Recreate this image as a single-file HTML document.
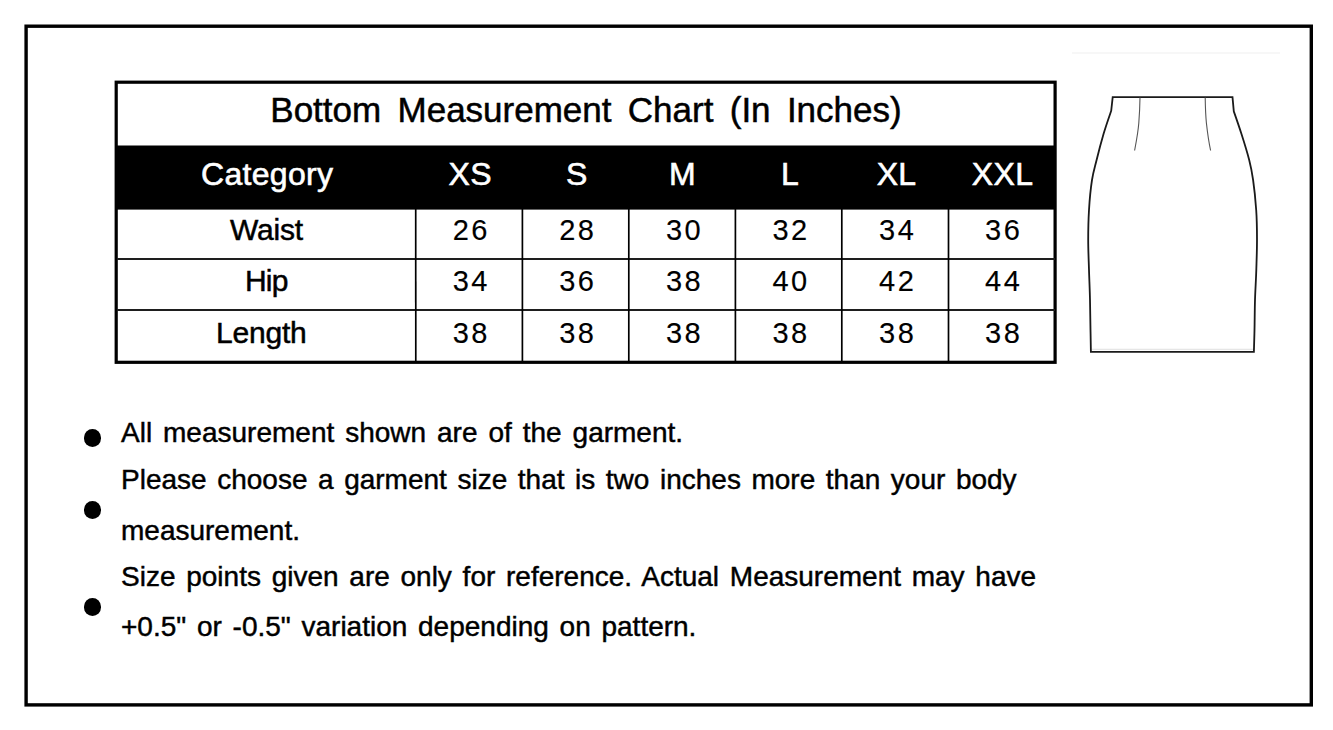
<!DOCTYPE html>
<html>
<head>
<meta charset="utf-8">
<style>
html,body{margin:0;padding:0;background:#fff;}
body{width:1333px;height:730px;position:relative;overflow:hidden;font-family:"Liberation Sans",sans-serif;color:#000;}
.t{position:absolute;white-space:nowrap;line-height:1;}
.c{text-align:center;}
#title{left:118px;width:936px;top:91.8px;font-size:35px;word-spacing:6.6px;-webkit-text-stroke:0.5px #000;}
.hd{color:#fff;font-size:32px;top:158.3px;-webkit-text-stroke:0.6px #fff;letter-spacing:0.3px;padding-left:1.3px;}
.lb{font-size:30px;letter-spacing:-0.8px;-webkit-text-stroke:0.5px #000;}
.num{font-size:29px;letter-spacing:2.4px;padding-left:2.4px;-webkit-text-stroke:0.15px #000;}
.bt{font-size:28px;left:121px;word-spacing:2.95px;-webkit-text-stroke:0.45px #000;}
.dot{position:absolute;width:17.5px;height:17.5px;border-radius:50%;background:#000;left:83.5px;}
svg{position:absolute;left:0;top:0;}
</style>
</head>
<body>
<svg width="1333" height="730" viewBox="0 0 1333 730">
  <!-- outer frame -->
  <rect x="26.1" y="26.2" width="1285.2" height="678.7" fill="none" stroke="#000" stroke-width="3.4"/>
  <!-- table header fill -->
  <rect x="116" y="145.5" width="940" height="64.1" fill="#000"/>
  <!-- table outer -->
  <rect x="116.2" y="82.2" width="938.9" height="280.1" fill="none" stroke="#000" stroke-width="3.2"/>
  <!-- horizontal row lines -->
  <g stroke="#1e1e1e" stroke-width="2">
    <line x1="117" y1="259" x2="1055" y2="259"/>
    <line x1="117" y1="310" x2="1055" y2="310"/>
  </g>
  <!-- vertical lines -->
  <g stroke="#000" stroke-width="1.7">
    <line x1="415.7" y1="209" x2="415.8" y2="362"/>
    <line x1="522.4" y1="209" x2="522.4" y2="362"/>
    <line x1="628.8" y1="209" x2="628.8" y2="362"/>
    <line x1="735.4" y1="209" x2="735.4" y2="362"/>
    <line x1="841.8" y1="209" x2="841.8" y2="362"/>
    <line x1="948.5" y1="209" x2="948.5" y2="362"/>
  </g>
  <!-- faint line above skirt -->
  <line x1="1072" y1="53" x2="1280" y2="53" stroke="#f5f5f5" stroke-width="1.5"/>
  <line x1="1092" y1="349.3" x2="1253" y2="349.3" stroke="#d8d8d8" stroke-width="0.8"/>
  <!-- skirt -->
  <g fill="none" stroke="#1a1a1a" stroke-width="1.8" stroke-linejoin="miter">
        <path d="M1112.7,97.1 L1111.2,110.8 C1109.9,114.6 1106.0,125.6 1103.6,133.8 C1101.2,142.0 1098.5,152.3 1096.6,160.0 C1094.7,167.7 1093.3,171.7 1092.0,180.0 C1090.7,188.3 1089.6,200.0 1089.0,210.0 C1088.4,220.0 1088.2,230.0 1088.2,240.0 C1088.2,250.0 1088.7,260.0 1089.0,270.0 C1089.3,280.0 1089.8,290.0 1090.0,300.0 C1090.2,310.0 1090.3,321.4 1090.5,330.0 C1090.7,338.6 1090.8,348.2 1090.9,351.8 L1253.9,351.8 C1254.0,348.2 1254.3,338.6 1254.5,330.0 C1254.7,321.4 1254.7,310.0 1255.0,300.0 C1255.3,290.0 1256.0,280.0 1256.3,270.0 C1256.6,260.0 1257.0,250.0 1257.0,240.0 C1257.0,230.0 1256.9,220.0 1256.2,210.0 C1255.5,200.0 1254.3,188.3 1253.1,180.0 C1251.9,171.7 1251.2,167.7 1249.2,160.0 C1247.2,152.3 1244.0,141.9 1241.4,133.8 C1238.8,125.7 1235.1,115.1 1233.8,111.4 L1232.5,97.1 Z"/>
  </g>
  <g fill="none" stroke="#555" stroke-width="1.1">
    <path d="M1140,97.5 C1139.8,110 1139.2,118 1138.8,123 C1138,133 1136,143 1134.6,150.5"/>
    <path d="M1205.2,97.5 C1205.4,110 1205.9,118 1206.4,123 C1207.5,133 1209,143 1210.6,150.5"/>
  </g>
</svg>

<div class="t c" id="title">Bottom Measurement Chart (In Inches)</div>

<div class="t c hd" style="left:117px;width:297.8px;">Category</div>
<div class="t c hd" style="left:415.8px;width:106.3px;">XS</div>
<div class="t c hd" style="left:522.1px;width:106.7px;">S</div>
<div class="t c hd" style="left:627.8px;width:106.6px;">M</div>
<div class="t c hd" style="left:735.4px;width:106.6px;">L</div>
<div class="t c hd" style="left:842px;width:106.5px;">XL</div>
<div class="t c hd" style="left:948.5px;width:105.5px;">XXL</div>

<div class="t lb" style="left:230px;top:214.6px;letter-spacing:-0.2px;">Waist</div>
<div class="t lb" style="left:245px;top:265.6px;">Hip</div>
<div class="t lb" style="left:216px;top:317.6px;letter-spacing:-0.2px;">Length</div>

<!-- row 1 -->
<div class="t c num" style="left:415.8px;width:106.3px;top:216.3px;">26</div>
<div class="t c num" style="left:522.1px;width:106.7px;top:216.3px;">28</div>
<div class="t c num" style="left:628.8px;width:106.6px;top:216.3px;">30</div>
<div class="t c num" style="left:735.4px;width:106.6px;top:216.3px;">32</div>
<div class="t c num" style="left:842px;width:106.5px;top:216.3px;">34</div>
<div class="t c num" style="left:948.5px;width:105.5px;top:216.3px;">36</div>
<!-- row 2 -->
<div class="t c num" style="left:415.8px;width:106.3px;top:267.2px;">34</div>
<div class="t c num" style="left:522.1px;width:106.7px;top:267.2px;">36</div>
<div class="t c num" style="left:628.8px;width:106.6px;top:267.2px;">38</div>
<div class="t c num" style="left:735.4px;width:106.6px;top:267.2px;">40</div>
<div class="t c num" style="left:842px;width:106.5px;top:267.2px;">42</div>
<div class="t c num" style="left:948.5px;width:105.5px;top:267.2px;">44</div>
<!-- row 3 -->
<div class="t c num" style="left:415.8px;width:106.3px;top:319.1px;">38</div>
<div class="t c num" style="left:522.1px;width:106.7px;top:319.1px;">38</div>
<div class="t c num" style="left:628.8px;width:106.6px;top:319.1px;">38</div>
<div class="t c num" style="left:735.4px;width:106.6px;top:319.1px;">38</div>
<div class="t c num" style="left:842px;width:106.5px;top:319.1px;">38</div>
<div class="t c num" style="left:948.5px;width:105.5px;top:319.1px;">38</div>

<!-- bullets -->
<div class="dot" style="top:429.2px;"></div>
<div class="dot" style="top:501px;"></div>
<div class="dot" style="top:598.2px;"></div>

<div class="t bt" style="top:419.3px;word-spacing:3.15px;">All measurement shown are of the garment.</div>
<div class="t bt" style="top:466.1px;word-spacing:2.78px;">Please choose a garment size that is two inches more than your body</div>
<div class="t bt" style="top:517.3px;">measurement.</div>
<div class="t bt" style="top:562.7px;">Size points given are only for reference. Actual Measurement may have</div>
<div class="t bt" style="top:613.3px;">+0.5" or -0.5" variation depending on pattern.</div>
</body>
</html>
